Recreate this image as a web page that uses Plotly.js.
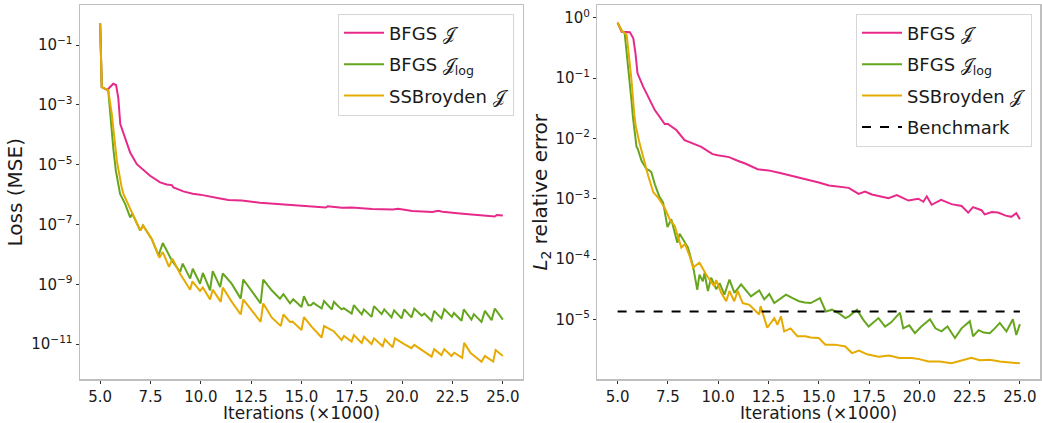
<!DOCTYPE html>
<html>
<head>
<meta charset="utf-8">
<script src="https://cdn.plot.ly/plotly-3.0.1.min.js"></script>
<style>html,body{margin:0;padding:0;background:#fff;}#plot{width:1042px;height:423px;}</style>
</head>
<body>
<div id="plot"></div>
<script>
// ---------- DATA (iterations in thousands, values as log10) ----------
const lossPinkX = [5.0,5.08,5.35,5.55,5.65,5.79,5.9,6.0,6.24,6.49,6.82,7.07,7.48,7.98,8.3,8.56,8.64,9.13,9.6,9.96,10.5,10.96,11.37,12.03,12.94,13.5,14.5,15.67,16.2,16.3,17.0,17.5,18.5,19.54,19.8,20.5,21.5,21.8,22.0,22.87,23.8,24.6,24.7,25.0];
const lossPinkLog = [-0.27,-2.4,-2.5,-2.35,-2.29,-2.33,-2.76,-3.64,-4.09,-4.59,-4.98,-5.14,-5.37,-5.59,-5.66,-5.68,-5.76,-5.89,-5.97,-6.0,-6.08,-6.13,-6.18,-6.2,-6.27,-6.3,-6.35,-6.4,-6.43,-6.39,-6.44,-6.43,-6.48,-6.5,-6.47,-6.55,-6.58,-6.54,-6.57,-6.63,-6.68,-6.73,-6.68,-6.7];

const lossGreenX = [5.0,5.08,5.4,5.5,5.66,5.78,5.99,6.24,6.49,6.6,6.99,7.13,7.56,7.9,8.11,8.56,8.97,9.1,9.47,9.6,9.96,10.1,10.46,10.59,10.96,11.09,11.53,11.98,12.11,12.97,13.1,13.52,13.93,14.1,14.43,14.59,15.0,15.12,15.34,15.47,15.59,16.0,16.12,16.5,16.61,16.99,17.1,17.49,17.6,17.99,18.1,18.48,18.6,18.98,19.11,19.47,19.6,19.97,20.1,20.46,20.6,20.97,21.1,21.46,21.59,21.95,22.09,22.47,22.57,22.95,23.06,23.44,23.56,23.94,24.11,24.44,24.6,25.0];
const lossGreenLog = [-0.27,-2.4,-2.5,-3.31,-4.5,-5.2,-5.98,-6.31,-6.76,-6.64,-7.2,-7.03,-7.48,-8.03,-7.62,-8.2,-8.59,-8.31,-8.81,-8.48,-8.98,-8.62,-9.2,-8.56,-9.09,-8.64,-8.98,-9.48,-8.84,-9.64,-8.84,-9.2,-9.48,-9.33,-9.64,-9.5,-9.76,-9.4,-9.7,-9.7,-9.62,-9.81,-9.56,-9.84,-9.59,-9.84,-9.8,-9.98,-9.7,-10.01,-9.84,-10.09,-9.73,-10.0,-9.84,-10.11,-9.87,-10.14,-9.84,-10.11,-9.81,-10.05,-9.98,-10.22,-9.89,-10.14,-9.83,-10.09,-9.96,-10.22,-9.84,-10.18,-10.0,-10.26,-9.89,-10.2,-9.81,-10.18];

const lossGoldX = [5.0,5.08,5.4,5.58,5.83,5.91,6.07,6.16,6.41,6.65,6.99,7.13,7.56,7.94,8.11,8.42,8.59,8.97,9.47,9.58,9.96,10.1,10.46,10.59,10.99,11.09,11.53,11.98,12.11,12.97,13.1,13.52,13.97,14.1,14.43,14.55,15.0,15.12,15.5,16.0,16.12,16.5,16.6,16.99,17.11,17.49,17.6,17.99,18.1,18.48,18.6,19.03,19.14,19.53,19.64,20.1,20.46,20.6,21.0,21.46,21.59,21.95,22.09,22.45,22.59,22.98,23.08,23.4,23.94,24.11,24.52,24.64,25.0];
const lossGoldLog = [-0.27,-2.4,-2.5,-3.31,-4.87,-5.2,-5.76,-5.98,-6.37,-6.7,-7.2,-7.03,-7.48,-8.11,-7.92,-8.42,-8.14,-8.65,-9.18,-8.9,-9.22,-9.11,-9.51,-9.18,-9.59,-9.11,-9.58,-10.01,-9.51,-10.26,-9.64,-10.11,-10.4,-10.01,-10.26,-10.25,-10.53,-10.1,-10.42,-10.78,-10.4,-10.55,-10.57,-10.87,-10.73,-10.92,-10.7,-10.96,-10.76,-11.0,-10.81,-11.07,-10.84,-11.11,-10.81,-11.0,-11.14,-11.03,-11.22,-11.42,-11.17,-11.37,-11.17,-11.4,-11.29,-11.46,-10.96,-11.3,-11.59,-11.4,-11.59,-11.2,-11.4];

const errPinkX = [5.0,5.2,5.61,5.78,5.89,5.99,6.27,6.55,6.85,7.34,7.5,7.92,8.33,9.16,9.72,9.98,10.54,10.97,11.37,11.96,12.5,13.03,13.94,14.6,15.0,15.51,15.99,16.49,16.98,17.3,17.64,18.1,18.47,18.88,19.46,19.95,20.2,20.37,20.61,21.08,21.6,22.1,22.43,22.67,23.09,23.25,23.6,23.91,24.3,24.57,24.82,25.0];
const errPinkLog = [-0.08,-0.23,-0.24,-0.34,-0.59,-0.92,-1.14,-1.33,-1.53,-1.76,-1.76,-1.86,-2.03,-2.14,-2.26,-2.28,-2.31,-2.37,-2.42,-2.51,-2.53,-2.57,-2.64,-2.7,-2.73,-2.78,-2.8,-2.82,-2.92,-2.88,-2.93,-2.96,-2.99,-2.94,-3.03,-3.0,-3.05,-2.96,-3.1,-3.02,-3.09,-3.12,-3.23,-3.14,-3.19,-3.26,-3.22,-3.23,-3.28,-3.3,-3.24,-3.34];

const errGreenX = [5.0,5.2,5.35,5.59,5.69,5.76,5.94,6.0,6.19,6.44,6.58,6.68,6.85,7.08,7.26,7.48,7.67,7.97,8.08,8.5,8.75,8.96,9.07,9.24,9.32,9.49,9.65,9.9,10.07,10.31,10.56,10.81,11.14,11.63,12.04,12.29,12.54,12.79,13.1,13.37,13.7,14.02,14.3,14.6,15.06,15.35,15.66,16.0,16.32,16.5,16.9,17.2,17.48,17.75,17.97,18.3,18.6,19.04,19.2,19.5,19.78,20.1,20.53,20.8,21.1,21.4,21.77,22.1,22.51,22.67,22.95,23.2,23.5,23.75,24.0,24.33,24.65,24.82,25.0];
const errGreenLog = [-0.08,-0.21,-0.25,-0.98,-1.37,-1.64,-2.14,-2.17,-2.37,-2.51,-2.53,-2.56,-2.76,-2.97,-3.06,-3.47,-3.34,-3.73,-3.58,-3.81,-4.12,-4.51,-4.26,-4.37,-4.23,-4.53,-4.31,-4.5,-4.4,-4.59,-4.34,-4.56,-4.42,-4.62,-4.52,-4.67,-4.58,-4.73,-4.66,-4.59,-4.65,-4.7,-4.72,-4.73,-4.65,-4.87,-4.84,-4.9,-4.98,-4.95,-4.84,-5.0,-5.12,-5.05,-4.98,-5.12,-5.05,-4.89,-5.15,-5.1,-5.23,-5.12,-5.0,-5.15,-5.2,-5.12,-5.31,-5.15,-5.03,-5.28,-5.18,-5.22,-5.23,-5.15,-5.06,-5.2,-5.0,-5.26,-5.08];

const errGoldX = [5.0,5.2,5.45,5.69,5.84,5.91,6.1,6.35,6.52,6.77,7.01,7.34,7.59,7.84,8.17,8.35,8.58,8.75,9.07,9.41,9.65,9.8,9.9,10.15,10.4,10.56,10.8,10.97,11.22,11.55,11.8,12.04,12.11,12.44,12.79,12.95,13.12,13.28,13.6,13.94,14.34,14.6,15.0,15.33,15.8,16.32,16.65,17.0,17.4,17.97,18.5,19.0,19.62,20.0,20.45,21.0,21.6,22.1,22.59,23.0,23.5,24.0,24.5,25.0];
const errGoldLog = [-0.08,-0.21,-0.28,-1.03,-1.64,-1.81,-2.09,-2.42,-2.62,-2.89,-2.98,-3.15,-3.34,-3.45,-3.81,-3.75,-3.95,-4.14,-4.06,-4.26,-4.37,-4.45,-4.35,-4.56,-4.7,-4.53,-4.7,-4.53,-4.73,-4.76,-4.84,-4.92,-4.78,-5.14,-4.98,-5.09,-4.95,-5.2,-5.15,-5.28,-5.28,-5.3,-5.31,-5.42,-5.42,-5.45,-5.56,-5.52,-5.58,-5.62,-5.6,-5.64,-5.64,-5.66,-5.7,-5.7,-5.73,-5.68,-5.64,-5.68,-5.67,-5.7,-5.71,-5.73];

const benchmarkX = [5.0, 25.0];
const benchmarkValue = 1.35e-5;

const xTickVals = [5, 7.5, 10, 12.5, 15, 17.5, 20, 22.5, 25];
const xTickText = ["5.0","7.5","10.0","12.5","15.0","17.5","20.0","22.5","25.0"];
const lossTickVals = [1e-1,1e-3,1e-5,1e-7,1e-9,1e-11];
const lossTickText = ["10<sup>−1</sup>","10<sup>−3</sup>","10<sup>−5</sup>","10<sup>−7</sup>","10<sup>−9</sup>","10<sup>−11</sup>"];
const errTickVals = [1e0,1e-1,1e-2,1e-3,1e-4,1e-5];
const errTickText = ["10<sup>0</sup>","10<sup>−1</sup>","10<sup>−2</sup>","10<sup>−3</sup>","10<sup>−4</sup>","10<sup>−5</sup>"];

const names = ["BFGS 𝒥", "BFGS 𝒥<sub>log</sub>", "SSBroyden 𝒥", "Benchmark"];
const colors = ["#e7298a", "#66a61e", "#e6ab02", "#000000"];
const xTitle = "Iterations (×1000)";

// ---------- PLOT ----------
const pow10 = a => a.map(v => Math.pow(10, v));
const FONT = "DejaVu Sans, sans-serif";

function line(x, ylog, i, xa, ya, leg, grp) {
  return {x: x, y: pow10(ylog), type: "scatter", mode: "lines", name: names[i],
    line: {color: colors[i], width: 2}, xaxis: xa, yaxis: ya, legend: leg, legendgroup: grp};
}

const traces = [
  line(lossPinkX, lossPinkLog, 0, "x", "y", "legend", "a"),
  line(lossGreenX, lossGreenLog, 1, "x", "y", "legend", "b"),
  line(lossGoldX, lossGoldLog, 2, "x", "y", "legend", "c"),
  line(errPinkX, errPinkLog, 0, "x2", "y2", "legend2", "d"),
  line(errGreenX, errGreenLog, 1, "x2", "y2", "legend2", "e"),
  line(errGoldX, errGoldLog, 2, "x2", "y2", "legend2", "f"),
  {x: benchmarkX, y: benchmarkX.map(() => benchmarkValue), type: "scatter", mode: "lines",
   name: names[3], line: {color: colors[3], width: 2, dash: "dash"},
   xaxis: "x2", yaxis: "y2", legend: "legend2", legendgroup: "g"}
];

const axisCommon = {
  showgrid: false, zeroline: false, showline: true, mirror: true,
  linecolor: "#bfbfbf", linewidth: 1.5, ticks: "outside", ticklen: 3, tickwidth: 1,
  tickcolor: "#333", tickfont: {family: FONT, size: 15, color: "#1a1a1a"}
};

const legendCommon = {
  xanchor: "right", yanchor: "top", bgcolor: "rgba(255,255,255,0.9)",
  bordercolor: "#d6d6d6", borderwidth: 1, font: {family: FONT, size: 18, color: "#1a1a1a"},
  tracegroupgap: 5, itemwidth: 40
};

const xDom1 = [0.0768, 0.5019], xDom2 = [0.5734, 0.9981];

const layout = {
  width: 1042, height: 423, margin: {l: 0, r: 0, t: 0, b: 0},
  paper_bgcolor: "#fff", plot_bgcolor: "#fff", showlegend: true,
  font: {family: FONT, color: "#1a1a1a"},
  xaxis: Object.assign({}, axisCommon, {domain: xDom1, range: [4.0, 26.0],
    tickvals: xTickVals, ticktext: xTickText, anchor: "y"}),
  yaxis: Object.assign({}, axisCommon, {domain: [0.104, 0.987], type: "log", range: [-12.17, 0.33],
    tickvals: lossTickVals, ticktext: lossTickText, anchor: "x",
    title: {text: "Loss (MSE)", font: {family: FONT, size: 20}, standoff: 3}}),
  xaxis2: Object.assign({}, axisCommon, {domain: xDom2, range: [4.0, 26.0],
    tickvals: xTickVals, ticktext: xTickText, anchor: "y2"}),
  yaxis2: Object.assign({}, axisCommon, {domain: [0.104, 0.987], type: "log", range: [-5.99, 0.205],
    tickvals: errTickVals, ticktext: errTickText, anchor: "x2",
    title: {text: "<i>L</i><sub>2</sub> relative error", font: {family: FONT, size: 20}, standoff: 2}}),
  legend: Object.assign({}, legendCommon, {x: 0.4933, y: 0.968}),
  legend2: Object.assign({}, legendCommon, {x: 0.9904, y: 0.968}),
  annotations: [
    {text: xTitle, xref: "paper", yref: "paper", x: (xDom1[0] + xDom1[1]) / 2, y: 1 - 412.5 / 423,
     xanchor: "center", yanchor: "middle", showarrow: false, borderpad: 0, font: {family: FONT, size: 17, color: "#1a1a1a"}},
    {text: xTitle, xref: "paper", yref: "paper", x: (xDom2[0] + xDom2[1]) / 2, y: 1 - 412.5 / 423,
     xanchor: "center", yanchor: "middle", showarrow: false, borderpad: 0, font: {family: FONT, size: 17, color: "#1a1a1a"}}
  ]
};

Plotly.newPlot("plot", traces, layout, {staticPlot: true, displayModeBar: false});
</script>
</body>
</html>
